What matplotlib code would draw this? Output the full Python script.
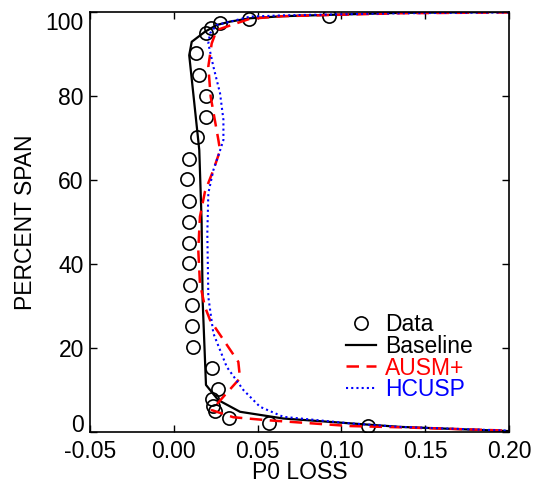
import matplotlib
matplotlib.use("Agg")
import matplotlib.pyplot as plt

plt.rcParams['font.family'] = ['Liberation Sans', 'DejaVu Sans']

# Experimental data
data_x = [0.0926, 0.0449, 0.0276, 0.0220, 0.0190, 0.0132, 0.0150, 0.0190, 0.0190, 0.0138,
          0.0089, 0.0079, 0.0089, 0.0089, 0.0089, 0.0089, 0.0099, 0.0107, 0.0107, 0.0117,
          0.0230, 0.0266, 0.0228, 0.0236, 0.0246, 0.0329, 0.0568, 0.1159]
data_y = [99.0, 98.3, 97.3, 96.3, 94.9, 90.3, 85.0, 80.0, 75.0, 70.3,
          65.0, 60.1, 55.0, 49.9, 45.0, 40.1, 34.9, 30.2, 25.1, 20.1,
          15.1, 10.1, 7.7, 6.1, 4.9, 3.1, 2.1, 1.3]

# Baseline
base_x = [0.200, 0.135, 0.065, 0.0454, 0.0335, 0.0256, 0.0186, 0.0107, 0.0092, 0.0152,
          0.0166, 0.0172, 0.0192, 0.0265, 0.0395, 0.0653, 0.105, 0.135, 0.200]
base_y = [100.0, 99.8, 99.0, 98.5, 97.7, 96.9, 95.3, 92.9, 89.7, 67.1,
          50.0, 31.3, 11.1, 7.5, 4.7, 3.1, 1.95, 1.1, 0.1]

# AUSM+
ausm_x = [0.200, 0.135, 0.065, 0.0455, 0.0256, 0.0226, 0.0206, 0.0220, 0.0266, 0.0276,
          0.0236, 0.0186, 0.0156, 0.0146, 0.0156, 0.0186, 0.0216, 0.0385, 0.0395, 0.0305,
          0.0226, 0.0355, 0.0554, 0.105, 0.135, 0.200]
ausm_y = [99.9, 99.7, 99.0, 98.4, 95.7, 92.5, 87.0, 79.8, 69.5, 67.0,
          62.3, 57.2, 51.2, 43.3, 35.3, 29.7, 26.6, 16.6, 12.7, 8.7,
          5.1, 3.4, 2.7, 1.3, 1.0, 0.2]

# HCUSP
hcusp_x = [0.200, 0.135, 0.065, 0.0455, 0.0256, 0.0216, 0.0206, 0.0236, 0.0276, 0.0296,
           0.0296, 0.0276, 0.0236, 0.0206, 0.0200, 0.0206, 0.0236, 0.0316, 0.0415, 0.0514,
           0.0653, 0.105, 0.135, 0.200]
hcusp_y = [99.9, 99.7, 99.2, 98.9, 96.9, 94.9, 92.5, 87.0, 80.6, 74.3,
           69.5, 67.0, 62.3, 56.8, 47.2, 32.1, 23.4, 15.4, 9.9, 5.9,
           3.5, 1.95, 1.1, 0.2]

x_ticks = [-0.05, 0.00, 0.05, 0.10, 0.15, 0.20]
x_ticklabels = ['-0.05', '0.00', '0.05', '0.10', '0.15', '0.20']
y_ticks = [0, 20, 40, 60, 80, 100]

FS = 16.5

fig = plt.figure(figsize=(5.35, 4.87), dpi=100)
ax = fig.add_axes([90/535, 1 - 431.5/487, 419/535, 419.5/487])

ax.plot(data_x, data_y, linestyle='none', marker='o', markersize=9.5,
        markerfacecolor='none', markeredgecolor='black', markeredgewidth=1.2, label='Data')
ax.plot(base_x, base_y, color='black', linewidth=1.6, label='Baseline')
ax.plot(ausm_x, ausm_y, color='red', linewidth=1.8, linestyle=(0, (5, 3)), label='AUSM+')
ax.plot(hcusp_x, hcusp_y, color='blue', linewidth=1.5, linestyle=(0, (1, 1.5)), label='HCUSP')

ax.set_xlim(-0.05, 0.20)
ax.set_ylim(0, 100)
ax.set_xticks(x_ticks)
ax.set_xticklabels(x_ticklabels)
ax.set_yticks(y_ticks)
ax.tick_params(direction='in', length=5, width=1, labelsize=FS,
               top=True, right=True)
ax.tick_params(axis='x', pad=6)
ax.tick_params(axis='y', pad=4.5)
for s in ax.spines.values():
    s.set_linewidth(1.2)

ylabels = ax.get_yticklabels()
ylabels[0].set_verticalalignment('baseline')
ylabels[-1].set_verticalalignment('top')

ax.set_xlabel('P0 LOSS', fontsize=FS, labelpad=-1)
ax.set_ylabel('PERCENT SPAN', fontsize=FS, labelpad=6)

leg = ax.legend(loc='lower right', bbox_to_anchor=(0.935, 0.05), frameon=False,
                fontsize=FS, handlelength=1.3, handletextpad=0.4, labelspacing=-0.05,
                labelcolor=['black', 'black', 'red', 'blue'], borderaxespad=0)

fig.savefig('out.png', dpi=100)
